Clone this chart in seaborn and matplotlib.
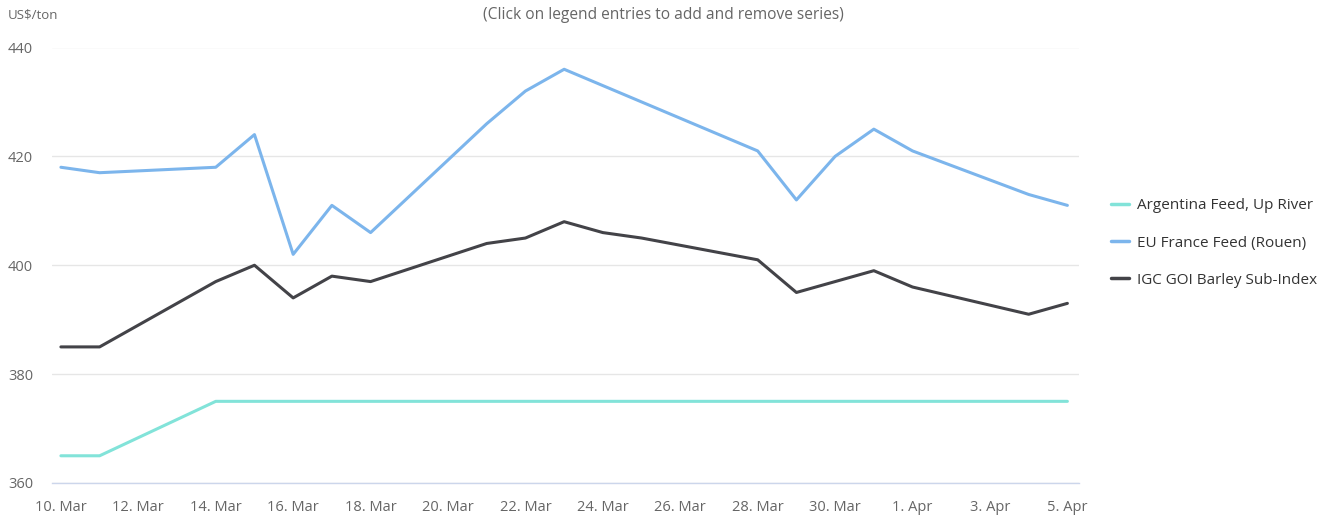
import matplotlib
matplotlib.use("Agg")
import matplotlib.pyplot as plt
import seaborn as sns
import pandas as pd
from matplotlib.lines import Line2D

dates = ["2022-03-10", "2022-03-11", "2022-03-14", "2022-03-15", "2022-03-16",
         "2022-03-17", "2022-03-18", "2022-03-21", "2022-03-22", "2022-03-23",
         "2022-03-24", "2022-03-25", "2022-03-28", "2022-03-29", "2022-03-30",
         "2022-03-31", "2022-04-01", "2022-04-04", "2022-04-05"]
argentina = [365, 365, 375, 375, 375, 375, 375, 375, 375, 375,
             375, 375, 375, 375, 375, 375, 375, 375, 375]
eu_france = [418, 417, 418, 424, 402, 411, 406, 426, 432, 436,
             433, 430, 421, 412, 420, 425, 421, 413, 411]
igc_goi = [385, 385, 397, 400, 394, 398, 397, 404, 405, 408,
           406, 405, 401, 395, 397, 399, 396, 391, 393]
series_names = ["Argentina Feed, Up River", "EU France Feed (Rouen)", "IGC GOI Barley Sub-Index"]
colors = ["#82e3d9", "#7cb5ec", "#434348"]
y_ticks = [360, 380, 400, 420, 440]

df = pd.concat([
    pd.DataFrame({"date": pd.to_datetime(dates), "value": vals, "series": name})
    for name, vals in zip(series_names, [argentina, eu_france, igc_goi])
])

sns.set_style("white")
plt.rcParams["font.family"] = ["Open Sans", "DejaVu Sans"]

fig = plt.figure(figsize=(13.3, 5.18), dpi=100)
ax = fig.add_axes([52 / 1330, 1 - 483 / 518, (1079 - 52) / 1330, (483 - 47.5) / 518])

sns.lineplot(data=df, x="date", y="value", hue="series", hue_order=series_names,
             palette=colors, linewidth=2.2, ax=ax, legend=False)

start = pd.Timestamp("2022-03-10")
ax.set_xlim(start - pd.Timedelta(days=0.23), pd.Timestamp("2022-04-05") + pd.Timedelta(days=0.3))
ax.set_ylim(360, 440)
ax.set_yticks(y_ticks)
ax.set_yticklabels([str(v) for v in y_ticks], color="#666666", fontsize=10.5)

xt = pd.date_range("2022-03-10", "2022-04-05", freq="2D")
ax.set_xticks(xt)
ax.set_xticklabels([f"{d.day}. {d.strftime('%b')}" for d in xt], color="#666666", fontsize=10.5)
ax.tick_params(axis="x", length=10, width=1, color="#ccd6eb", pad=2, direction="out")
ax.tick_params(axis="y", length=0, pad=13.5)

ax.grid(axis="y", color="#e6e6e6", linewidth=1)
ax.set_axisbelow(True)
for s in ["top", "right", "left"]:
    ax.spines[s].set_visible(False)
ax.spines["bottom"].set_color("#ccd6eb")
ax.spines["bottom"].set_linewidth(1)
ax.set_xlabel("")
ax.set_ylabel("")

fig.text(8 / 1330, 1 - 15 / 518, "US$/ton", color="#666666", fontsize=9.5, va="center", ha="left")
fig.text(663 / 1330, 1 - 15 / 518, "(Click on legend entries to add and remove series)",
         color="#666666", fontsize=11.2, va="center", ha="center")

handles = [Line2D([0], [0], color=c, lw=2.5) for c in colors]
leg = fig.legend(handles, series_names, loc="center left",
                 bbox_to_anchor=(1097 / 1330, 1 - 243 / 518), frameon=False,
                 fontsize=11, handlelength=1.2, handletextpad=0.5, labelspacing=1.45,
                 labelcolor="#333333")

fig.savefig("out.png", dpi=100, facecolor="white")
